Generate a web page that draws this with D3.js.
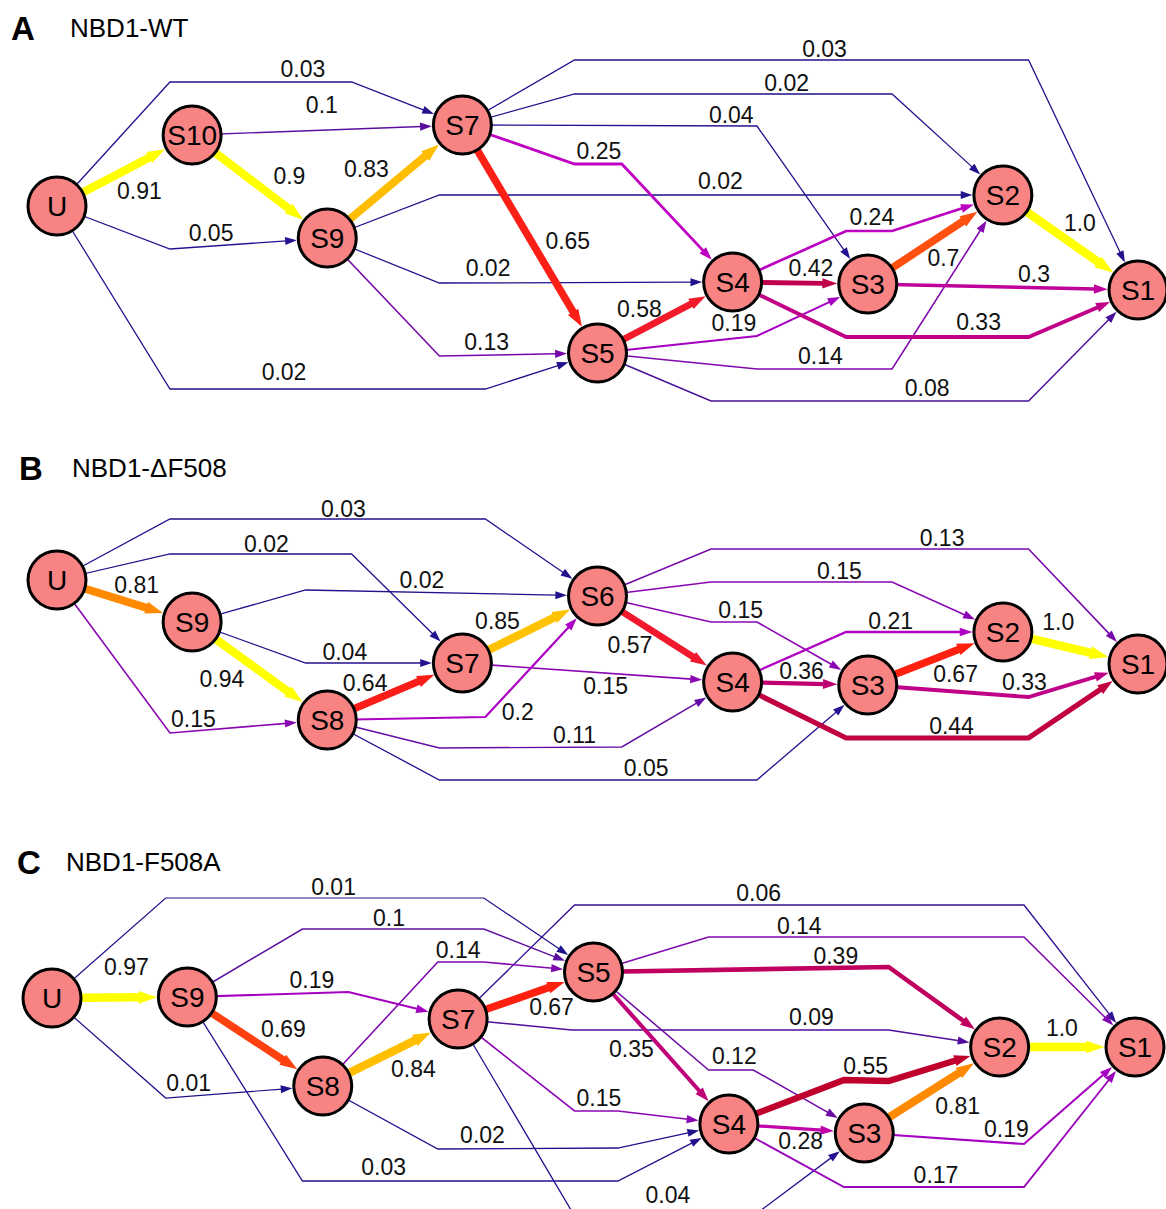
<!DOCTYPE html>
<html>
<head>
<meta charset="utf-8">
<script src="https://cdn.jsdelivr.net/npm/d3@7"></script>
<style>
  html, body { margin: 0; padding: 0; background: #fff; }
  svg { display: block; font-family: "Liberation Sans", Arial, Helvetica, sans-serif; }
</style>
</head>
<body>
<svg id="chart" width="1166" height="1209"></svg>
<script>
// ---------- Panel A: NBD1-WT ----------
const nodesWT = ["U", "S10", "S9", "S7", "S5", "S4", "S3", "S2", "S1"];
const edgesWT = [
  ["U", "S10", 0.91], ["U", "S7", 0.03], ["U", "S9", 0.05], ["U", "S5", 0.02],
  ["S10", "S7", 0.1], ["S10", "S9", 0.9], ["S9", "S7", 0.83], ["S9", "S2", 0.02],
  ["S9", "S4", 0.02], ["S9", "S5", 0.13], ["S7", "S5", 0.65], ["S7", "S1", 0.03],
  ["S7", "S2", 0.02], ["S7", "S3", 0.04], ["S7", "S4", 0.25], ["S5", "S4", 0.58],
  ["S5", "S3", 0.19], ["S5", "S2", 0.14], ["S5", "S1", 0.08], ["S4", "S2", 0.24],
  ["S4", "S3", 0.42], ["S4", "S1", 0.33], ["S3", "S2", 0.7], ["S3", "S1", 0.3],
  ["S2", "S1", 1.0]
];

// ---------- Panel B: NBD1-ΔF508 ----------
const nodesDF = ["U", "S9", "S8", "S7", "S6", "S4", "S3", "S2", "S1"];
const edgesDF = [
  ["U", "S9", 0.81], ["U", "S6", 0.03], ["U", "S7", 0.02], ["U", "S8", 0.15],
  ["S9", "S6", 0.02], ["S9", "S7", 0.04], ["S9", "S8", 0.94], ["S8", "S7", 0.64],
  ["S8", "S6", 0.2], ["S8", "S4", 0.11], ["S8", "S3", 0.05], ["S7", "S6", 0.85],
  ["S7", "S4", 0.15], ["S6", "S1", 0.13], ["S6", "S2", 0.15], ["S6", "S3", 0.15],
  ["S6", "S4", 0.57], ["S4", "S2", 0.21], ["S4", "S3", 0.36], ["S4", "S1", 0.44],
  ["S3", "S2", 0.67], ["S3", "S1", 0.33], ["S2", "S1", 1.0]
];

// ---------- Panel C: NBD1-F508A ----------
const nodesFA = ["U", "S9", "S8", "S7", "S5", "S4", "S3", "S2", "S1"];
const edgesFA = [
  ["U", "S9", 0.97], ["U", "S5", 0.01], ["U", "S8", 0.01], ["S9", "S5", 0.1],
  ["S9", "S7", 0.19], ["S9", "S8", 0.69], ["S9", "S4", 0.03], ["S8", "S5", 0.14],
  ["S8", "S7", 0.84], ["S8", "S4", 0.02], ["S7", "S1", 0.06], ["S7", "S5", 0.67],
  ["S7", "S2", 0.09], ["S7", "S4", 0.15], ["S7", "S3", 0.04], ["S5", "S1", 0.14],
  ["S5", "S2", 0.39], ["S5", "S3", 0.12], ["S5", "S4", 0.35], ["S4", "S2", 0.55],
  ["S4", "S3", 0.28], ["S4", "S1", 0.17], ["S3", "S2", 0.81], ["S3", "S1", 0.19],
  ["S2", "S1", 1.0]
];

// ---------- Layout (column units on x, panel pixels on y) ----------
const nodeColWT = [0, 1, 2, 3, 4, 5, 6, 7, 8];
const nodeRowWT = [206, 135, 238, 125, 353, 282, 284, 195, 290];
const routesWT = [
  [], [[0.836, 82], [2.18, 82]], [[0.836, 249]], [[0.836, 389], [3.17, 389]],
  [], [], [], [[2.83, 195]],
  [[2.83, 283]], [[2.83, 356]], [], [[3.83, 60], [7.19, 60]],
  [[3.83, 94], [6.18, 94]], [[5.18, 126]], [[3.83, 164], [4.18, 164]], [],
  [[5.18, 336]], [[5.18, 369], [6.18, 369]], [[4.84, 401], [7.19, 401]], [[5.84, 231], [6.18, 231]],
  [], [[5.84, 337], [7.19, 337]], [], [],
  []
];
const labelSpotsWT = [
  [0.61, 191], [1.82, 69], [1.14, 233], [1.68, 372],
  [1.96, 105], [1.72, 176], [2.29, 169], [4.91, 181],
  [3.19, 268], [3.18, 342], [3.78, 241], [5.68, 49],
  [5.40, 83], [4.99, 115], [4.01, 151], [4.31, 309],
  [5.01, 323], [5.65, 356], [6.44, 388], [6.03, 217],
  [5.58, 268], [6.82, 322], [6.56, 258], [7.23, 274],
  [7.57, 223]
];

const nodeColDF = [0, 1, 2, 3, 4, 5, 6, 7, 8];
const nodeRowDF = [140, 182, 280, 223, 156, 242, 245, 192, 224];
const routesDF = [
  [], [[0.836, 79], [3.17, 79]], [[0.836, 114], [2.18, 114]], [[0.836, 293]],
  [[1.84, 150]], [[1.84, 223]], [], [],
  [[3.17, 277]], [[2.83, 308], [4.18, 307]], [[2.83, 340], [5.18, 340]], [],
  [], [[4.84, 109], [7.19, 109]], [[4.84, 142], [6.18, 142]], [[4.84, 182], [5.18, 182]],
  [], [[5.84, 192]], [], [[5.84, 298], [7.19, 298]],
  [], [[7.19, 257]], []
];
const labelSpotsDF = [
  [0.59, 145], [2.12, 69], [1.55, 104], [1.01, 279],
  [2.70, 140], [2.13, 212], [1.22, 239], [2.28, 243],
  [3.41, 272], [3.83, 295], [4.36, 328], [3.26, 181],
  [4.06, 246], [6.55, 98], [5.79, 131], [5.06, 170],
  [4.24, 205], [6.17, 181], [5.51, 231], [6.62, 286],
  [6.65, 234], [7.16, 242], [7.41, 182]
];

const nodeColFA = [0, 1, 2, 3, 4, 5, 6, 7, 8];
const nodeRowFA = [164, 163, 252, 185, 138, 290, 299, 213, 213];
const routesFA = [
  [], [[0.84, 64], [3.19, 64]], [[0.84, 264]], [[1.85, 95], [3.19, 95]],
  [[2.19, 158]], [], [[1.85, 347], [4.18, 347]], [[2.85, 128], [3.19, 128]],
  [], [[2.85, 315], [4.18, 314]], [[3.86, 71], [7.18, 71]], [],
  [[3.84, 196], [6.18, 196]], [[3.86, 277], [4.18, 277]], [[3.86, 382], [5.18, 382]], [[4.85, 103], [7.18, 103]],
  [[6.18, 133]], [[4.85, 236], [5.18, 236]], [], [[5.85, 246], [6.18, 247]],
  [], [[5.85, 353], [7.18, 353]], [], [[7.18, 310]],
  []
];
const labelSpotsFA = [
  [0.55, 133], [2.08, 53], [1.01, 249], [2.49, 84],
  [1.92, 146], [1.71, 195], [2.45, 333], [3.00, 116],
  [2.67, 235], [3.18, 301], [5.22, 59], [3.69, 173],
  [5.61, 183], [4.04, 264], [4.55, 361], [5.52, 92],
  [5.79, 122], [5.04, 222], [4.28, 215], [6.01, 232],
  [5.53, 307], [6.53, 341], [6.69, 272], [7.05, 295],
  [7.46, 194]
];

const panels = [
  { letter: "A", title: "NBD1-WT", top: 0, letterX: 11, titleX: 70, xRange: [57, 1138],
    nodes: nodesWT, cols: nodeColWT, rows: nodeRowWT, edges: edgesWT, routes: routesWT, labels: labelSpotsWT },
  { letter: "B", title: "NBD1-\u0394F508", top: 440, letterX: 19, titleX: 72, xRange: [57, 1138],
    nodes: nodesDF, cols: nodeColDF, rows: nodeRowDF, edges: edgesDF, routes: routesDF, labels: labelSpotsDF },
  { letter: "C", title: "NBD1-F508A", top: 834, letterX: 17, titleX: 66, xRange: [52, 1135],
    nodes: nodesFA, cols: nodeColFA, rows: nodeRowFA, edges: edgesFA, routes: routesFA, labels: labelSpotsFA }
];

// ---------- Encodings ----------
const color = d3.scaleLinear()
  .domain([0, 0.05, 0.1, 0.15, 0.2, 0.25, 0.3, 0.35, 0.44, 0.55, 0.57, 0.67, 0.7, 0.81, 0.825, 0.86, 0.9, 1])
  .range(["#1a1288", "#2a1092", "#5a0ea0", "#8a06b2", "#ac00c4", "#c000c2", "#c0009a", "#c00078",
          "#c00040", "#c0002c", "#f01a2c", "#ff2010", "#ff5010", "#ff8a00", "#ffbc00", "#ffc400",
          "#ffff00", "#ffff00"])
  .interpolate(d3.interpolateRgb)
  .clamp(true);
const width = d3.scaleLinear()
  .domain([0, 0.15, 0.45, 0.65, 1])
  .range([1.2, 1.6, 5.3, 7.5, 8.6])
  .clamp(true);
const R = 29;          // node radius
const tipGap = 30.5;   // arrow tip distance from node centre
const fmt = v => (v === 1 ? "1.0" : String(v));

const svg = d3.select("#chart");
svg.append("rect").attr("width", 1166).attr("height", 1209).attr("fill", "#fff");
const line = d3.line();

panels.forEach(p => {
  const x = d3.scaleLinear().domain([0, 8]).range(p.xRange);
  const y = d3.scaleLinear().domain([0, 1]).range([p.top, p.top + 1]);
  const g = svg.append("g");

  // title
  g.append("text")
    .attr("x", p.letterX).attr("y", y(28)).attr("dy", "0.36em")
    .attr("font-size", 33).attr("font-weight", "bold").text(p.letter);
  g.append("text")
    .attr("x", p.titleX).attr("y", y(28)).attr("dy", "0.36em")
    .attr("font-size", 26).text(p.title);

  const pos = {};
  p.nodes.forEach((n, i) => { pos[n] = [x(p.cols[i]), y(p.rows[i])]; });

  const items = p.edges.map((e, i) => {
    const [s, t, v] = e;
    const pts = [pos[s]].concat(p.routes[i].map(([c, r]) => [x(c), y(r)]), [pos[t]]);
    const w = width(v);
    const n = pts.length;
    const [tx, ty] = pts[n - 1], [px, py] = pts[n - 2];
    const len = Math.hypot(tx - px, ty - py);
    const ux = (tx - px) / len, uy = (ty - py) / len;
    const tip = [tx - ux * tipGap, ty - uy * tipGap];
    const L = 10.5 + w * 0.9, hw = 3.6 + w * 0.32;
    const base = [tip[0] - ux * L, tip[1] - uy * L];
    const lineEnd = [base[0] + ux * 1.5, base[1] + uy * 1.5];
    const path = pts.slice(0, n - 1).concat([lineEnd]);
    const head = [tip, [base[0] - uy * hw, base[1] + ux * hw], [base[0] + uy * hw, base[1] - ux * hw]];
    return { v, w, path, head, label: p.labels[i] };
  }).sort((a, b) => a.v - b.v);

  const eg = g.append("g");
  const edge = eg.selectAll("g.edge").data(items).join("g").attr("class", "edge");
  edge.append("path")
    .attr("d", d => line(d.path))
    .attr("fill", "none")
    .attr("stroke", d => color(d.v))
    .attr("stroke-width", d => d.w)
    .attr("stroke-linejoin", "miter")
    .attr("stroke-miterlimit", 10);
  edge.append("path")
    .attr("d", d => line(d.head) + "Z")
    .attr("fill", d => color(d.v));

  // nodes
  const ng = g.append("g").selectAll("g").data(p.nodes).join("g")
    .attr("transform", n => `translate(${pos[n][0]},${pos[n][1]})`);
  ng.append("circle").attr("r", R)
    .attr("fill", "#f78383").attr("stroke", "#000").attr("stroke-width", 3);
  ng.append("text")
    .attr("text-anchor", "middle").attr("dy", "0.36em")
    .attr("font-size", 28).text(n => n);

  // edge values
  g.append("g").selectAll("text").data(items).join("text")
    .attr("x", d => x(d.label[0])).attr("y", d => y(d.label[1]))
    .attr("dy", "0.36em").attr("text-anchor", "middle")
    .attr("font-size", 23).attr("fill", "#111")
    .text(d => fmt(d.v));
});
</script>
</body>
</html>
